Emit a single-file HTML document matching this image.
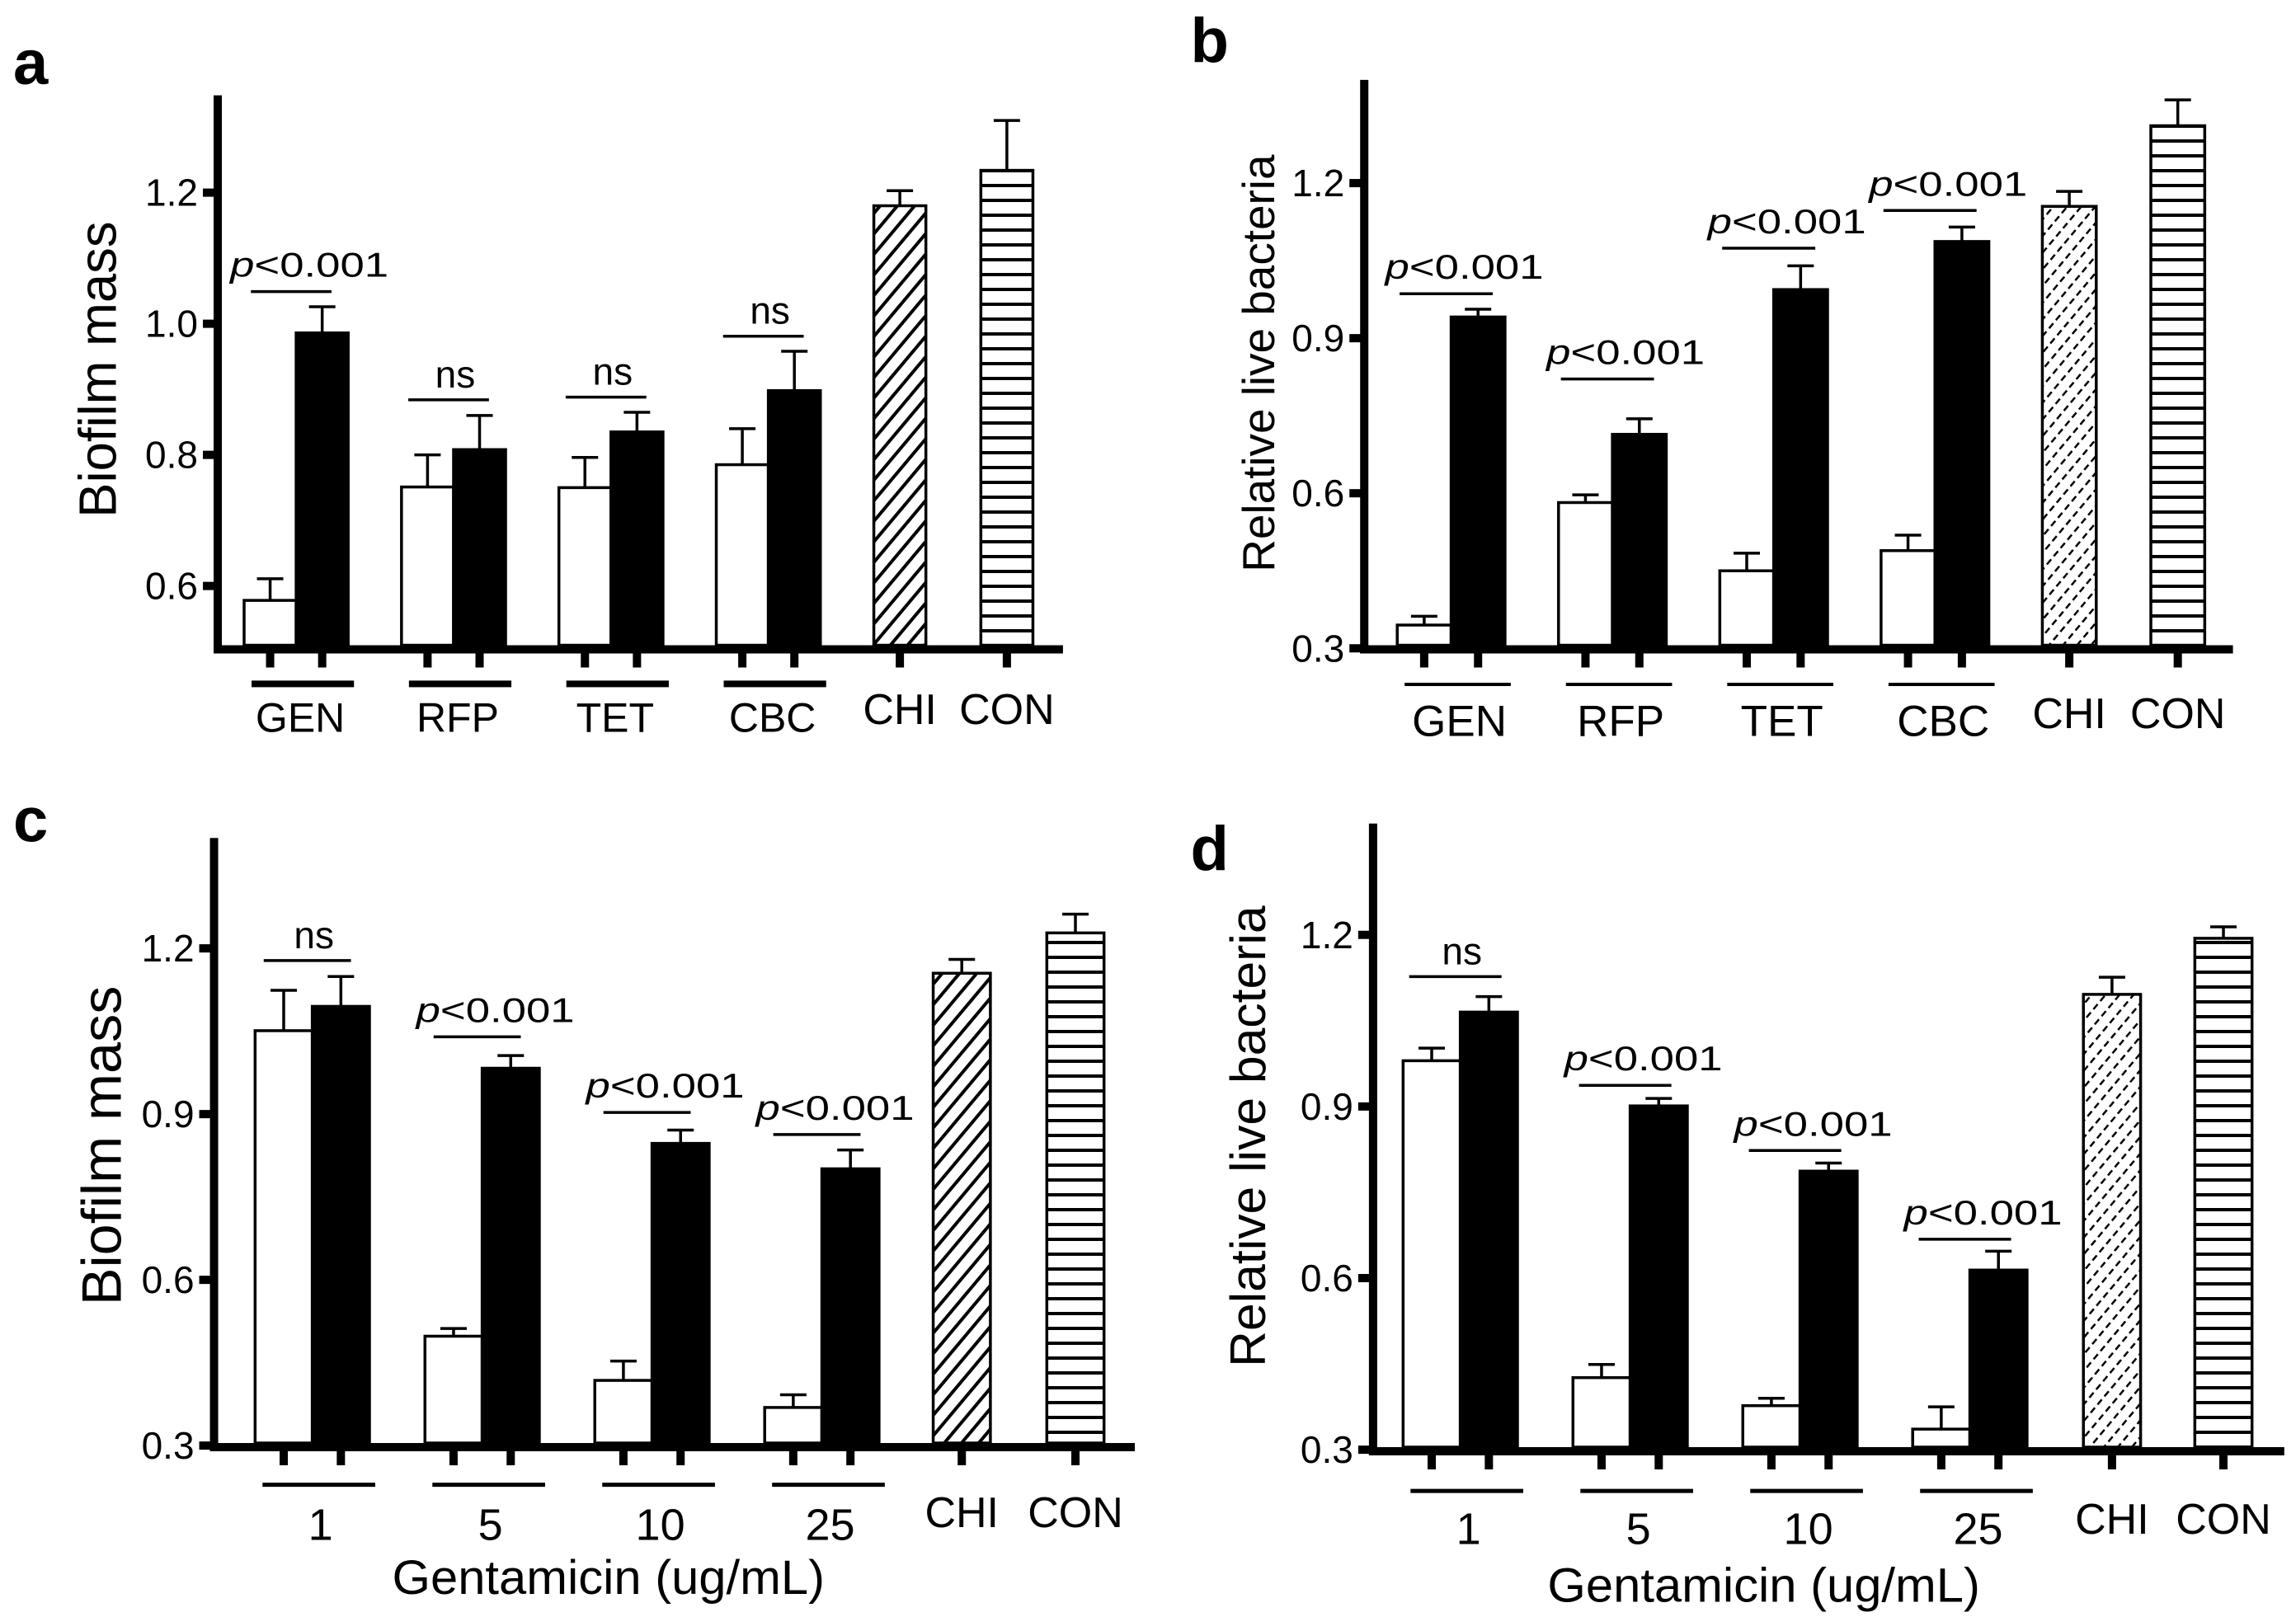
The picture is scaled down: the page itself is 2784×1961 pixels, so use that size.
<!DOCTYPE html>
<html><head><meta charset="utf-8">
<style>
html,body{margin:0;padding:0;background:#fff;}
svg{display:block;font-family:"Liberation Sans",Arial,sans-serif;}
</style></head>
<body>
<svg id="fig" xmlns="http://www.w3.org/2000/svg" width="2784" height="1961" viewBox="0 0 2784 1961">
<defs>
<pattern id="diagA" patternUnits="userSpaceOnUse" width="16" height="16" patternTransform="rotate(40)"><rect width="16" height="16" fill="#fff"/><rect x="0" y="0" width="4" height="16" fill="#000"/></pattern>
<pattern id="diagB" patternUnits="userSpaceOnUse" width="13" height="13" patternTransform="rotate(40)"><rect width="13" height="13" fill="#fff"/><rect x="0" y="0" width="2.5" height="8" fill="#000"/></pattern>
<pattern id="horiz" patternUnits="userSpaceOnUse" width="20" height="18"><rect width="20" height="18" fill="#fff"/><rect x="0" y="7" width="20" height="4" fill="#000"/></pattern>
</defs>
</svg>
<script>
// ---------- data ----------
const aCats = ["GEN","RFP","TET","CBC"];
const aWhite = [0.578,0.751,0.750,0.785];
const aWhiteErr = [0.033,0.049,0.046,0.055];
const aBlack = [0.986,0.808,0.835,0.898];
const aBlackErr = [0.040,0.052,0.030,0.060];
const aSingleCats = ["CHI","CON"];
const aSingle = [1.180,1.234];
const aSingleErr = [0.023,0.076];
const aSig = ["p","ns","ns","ns"];
const aSigLevel = [1.049,0.884,0.888,0.981];
const aTicks = [0.6,0.8,1.0,1.2];

const bCats = ["GEN","RFP","TET","CBC"];
const bWhite = [0.345,0.582,0.450,0.489];
const bWhiteErr = [0.017,0.015,0.034,0.030];
const bBlack = [0.941,0.714,0.994,1.087];
const bBlackErr = [0.015,0.030,0.046,0.028];
const bSingleCats = ["CHI","CON"];
const bSingle = [1.155,1.311];
const bSingleErr = [0.029,0.050];
const bSig = ["p","p","p","p"];
const bSigLevel = [0.986,0.821,1.074,1.147];
const bTicks = [0.3,0.6,0.9,1.2];

const cCats = ["1","5","10","25"];
const cWhite = [1.051,0.498,0.418,0.369];
const cWhiteErr = [0.073,0.014,0.035,0.023];
const cBlack = [1.095,0.983,0.847,0.801];
const cBlackErr = [0.054,0.023,0.024,0.034];
const cSingleCats = ["CHI","CON"];
const cSingle = [1.155,1.228];
const cSingleErr = [0.025,0.034];
const cSig = ["ns","p","p","p"];
const cSigLevel = [1.178,1.040,0.903,0.863];
const cTicks = [0.3,0.6,0.9,1.2];

const dCats = ["1","5","10","25"];
const dWhite = [0.980,0.426,0.377,0.336];
const dWhiteErr = [0.022,0.023,0.013,0.039];
const dBlack = [1.065,0.901,0.787,0.614];
const dBlackErr = [0.027,0.013,0.014,0.033];
const dSingleCats = ["CHI","CON"];
const dSingle = [1.096,1.194];
const dSingleErr = [0.030,0.020];
const dSig = ["ns","p","p","p"];
const dSigLevel = [1.127,0.937,0.823,0.668];
const dTicks = [0.3,0.6,0.9,1.2];

// ---------- drawing ----------
const NS = "http://www.w3.org/2000/svg";
const svg = document.getElementById("fig");
const SX = 1.125, SY = 1.6;
function mk(tag, attrs, parent){
  const e = document.createElementNS(NS, tag);
  for (const k in attrs) e.setAttribute(k, attrs[k]);
  parent.appendChild(e);
  return e;
}

function drawPanel(P){
  const g = mk("g", {}, svg);
  
  
  const X = zx => P.ox + zx / SX;
  const Yz = zy => P.oy + zy / SY;
  const yScale = v => P.oy + (P.refY - (v - P.refV) * P.ppu) / SY;
  const axisX = X(P.axisX), baseY = Yz(P.base), topY = Yz(P.top), endX = X(P.xEnd);

  const L = mk("text", {x: X(P.letterX), y: Yz(P.letterY), "font-size": 76, "font-weight": "bold"}, g);
  L.textContent = P.letter;
  
  

  const yt = mk("text", {x: 0, y: 0, "font-size": P.ytSize, "text-anchor": "middle",
    transform: `translate(${X(P.ytX)},${Yz(P.ytY)}) rotate(-90)`,
    textLength: P.ytLen / SY, lengthAdjust: "spacingAndGlyphs"}, g);
  yt.textContent = P.ytitle;
  
  

  const barW = P.bw / SX;
  const cw = 16;
  function bar(x0, v, err, fill, name){
    const yT = yScale(v);
    const r = mk("rect", {x: x0, y: yT, width: barW, height: baseY - yT, fill: fill, stroke: "#000", "stroke-width": 3.5}, g);
    
    
    const cx = x0 + barW / 2, yE = yScale(v + err);
    const eb = mk("path", {d: `M${cx} ${yT}V${yE}M${cx - cw} ${yE}H${cx + cw}`, stroke: "#000", "stroke-width": 3.5, fill: "none"}, g);
    
    
    const tk = mk("rect", {x: cx - 5, y: baseY + 5, width: 10, height: 22, fill: "#000"}, g);
    
    
    return cx;
  }

  P.cats.forEach((c, i) => {
    const gx = X(P.g0 + i * P.gstep);
    bar(gx, P.white[i], P.whiteErr[i], "#fff", 'bar-' + c + '-untreated');
    bar(gx + barW, P.black[i], P.blackErr[i], "#000", 'bar-' + c + '-treated');
    const gc = gx + barW;
    const ul = mk("rect", {x: gx + 9, y: Yz(P.ulY) - P.ulT / 2, width: 2 * barW - 2, height: P.ulT, fill: "#000"}, g);
    
    
    const t = mk("text", {x: gc + P.labDx, y: Yz(P.labY), "font-size": P.labSize, "text-anchor": "middle"}, g);
    t.textContent = c;
    
    
    const sy = yScale(P.sigLevel[i]);
    const half = P.sigW / SX / 2, sc = gc - 6;
    const sl = mk("line", {x1: sc - half, x2: sc + half, y1: sy, y2: sy, stroke: "#000", "stroke-width": 3.5}, g);
    
    
    const st = mk("text", {x: sc + 22, y: sy - 18, "font-size": 42, "text-anchor": "middle"}, g);
    if (P.sig[i] === "p") {
      st.innerHTML = '<tspan font-style="italic">p</tspan>&lt;0.001';
      st.setAttribute('textLength', 192);
      st.setAttribute('lengthAdjust', 'spacingAndGlyphs');
    } else {
      st.textContent = "ns";
      st.setAttribute('x', sc + 8);
      st.setAttribute('y', sy - 15);
      st.setAttribute('font-size', 46);
    }
    
    
  });

  P.singleCats.forEach((c, j) => {
    const sx = X(P.s0 + j * P.sstep);
    const cx = bar(sx, P.single[j], P.singleErr[j], j === 0 ? P.chiFill : "url(#horiz)", 'bar-' + c);
    const t = mk("text", {x: cx, y: Yz(P.sLabY), "font-size": 52, "text-anchor": "middle"}, g);
    t.textContent = c;
    
    
  });

  const ya = mk("rect", {x: axisX - 5, y: topY, width: 10, height: baseY + 10 - topY, fill: "#000"}, g);
  
  
  const xa = mk("rect", {x: axisX - 5, y: baseY, width: endX - axisX + 5, height: 10, fill: "#000"}, g);
  
  

  P.ticks.forEach(v => {
    const y = yScale(v);
    const tm = mk("rect", {x: axisX - 18, y: y - 5, width: 15, height: 10, fill: "#000"}, g);
    
    
    const tl = mk("text", {x: axisX - 24, y: y + 16, "font-size": 46, "text-anchor": "end"}, g);
    tl.textContent = v.toFixed(1);
    
    
  });

  if (P.xtitle) {
    const xt = mk("text", {x: X(P.xtX), y: Yz(P.xtY), "font-size": 58, "text-anchor": "middle", textLength: P.xtLen / SX, lengthAdjust: "spacingAndGlyphs"}, g);
    xt.textContent = P.xtitle;
    
    
  }
}

drawPanel({letter:"a", ox:0, oy:0, axisX:297, top:185, base:1252, xEnd:1450,
  refV:0.6, refY:1137, ppu:1272, bw:71, g0:333, gstep:214.7, s0:1192, sstep:146,
  cats:aCats, white:aWhite, whiteErr:aWhiteErr, black:aBlack, blackErr:aBlackErr,
  singleCats:aSingleCats, single:aSingle, singleErr:aSingleErr, sig:aSig, sigLevel:aSigLevel, ticks:aTicks,
  chiFill:"url(#diagA)", ulY:1327, ulT:8, labY:1420, labDx:5, labSize:50, sLabY:1405, sigW:110,
  letterX:18, letterY:163, ytitle:"Biofilm mass", ytX:158, ytY:717, ytSize:64, ytLen:575});

drawPanel({letter:"b", ox:1392, oy:0, axisX:295, top:155, base:1252, xEnd:1480,
  refV:0.3, refY:1258, ppu:1003, bw:73.5, g0:340, gstep:220, s0:1220, sstep:148,
  cats:bCats, white:bWhite, whiteErr:bWhiteErr, black:bBlack, blackErr:bBlackErr,
  singleCats:bSingleCats, single:bSingle, singleErr:bSingleErr, sig:bSig, sigLevel:bSigLevel, ticks:bTicks,
  chiFill:"url(#diagB)", ulY:1328, ulT:4, labY:1428, labDx:10, labSize:53, sLabY:1413, sigW:127,
  letterX:58, letterY:120, ytitle:"Relative live bacteria", ytX:172, ytY:705, ytSize:55, ytLen:810});

drawPanel({letter:"c", ox:0, oy:980, axisX:292, top:58, base:1232, xEnd:1548,
  refV:0.3, refY:1237, ppu:1072, bw:78, g0:348, gstep:231.7, s0:1273, sstep:155,
  cats:cCats, white:cWhite, whiteErr:cWhiteErr, black:cBlack, blackErr:cBlackErr,
  singleCats:cSingleCats, single:cSingle, singleErr:cSingleErr, sig:cSig, sigLevel:cSigLevel, ticks:cTicks,
  chiFill:"url(#diagA)", ulY:1313, ulT:5, labY:1420, labDx:10, labSize:54, sLabY:1395, sigW:119,
  letterX:18, letterY:65, ytitle:"Biofilm mass", ytX:165, ytY:655, ytSize:68, ytLen:620,
  xtitle:"Gentamicin (ug/mL)", xtX:830, xtY:1525, xtLen:590});

drawPanel({letter:"d", ox:1392, oy:980, axisX:307, top:30, base:1240, xEnd:1550,
  refV:0.3, refY:1245, ppu:1110, bw:78, g0:348, gstep:231.7, s0:1276, sstep:152,
  cats:dCats, white:dWhite, whiteErr:dWhiteErr, black:dBlack, blackErr:dBlackErr,
  singleCats:dSingleCats, single:dSingle, singleErr:dSingleErr, sig:dSig, sigLevel:dSigLevel, ticks:dTicks,
  chiFill:"url(#diagB)", ulY:1325, ulT:5, labY:1428, labDx:10, labSize:54, sLabY:1408, sigW:126,
  letterX:58, letterY:120, ytitle:"Relative live bacteria", ytX:160, ytY:637, ytSize:60, ytLen:895,
  xtitle:"Gentamicin (ug/mL)", xtX:840, xtY:1540, xtLen:590});
</script>
</body></html>
